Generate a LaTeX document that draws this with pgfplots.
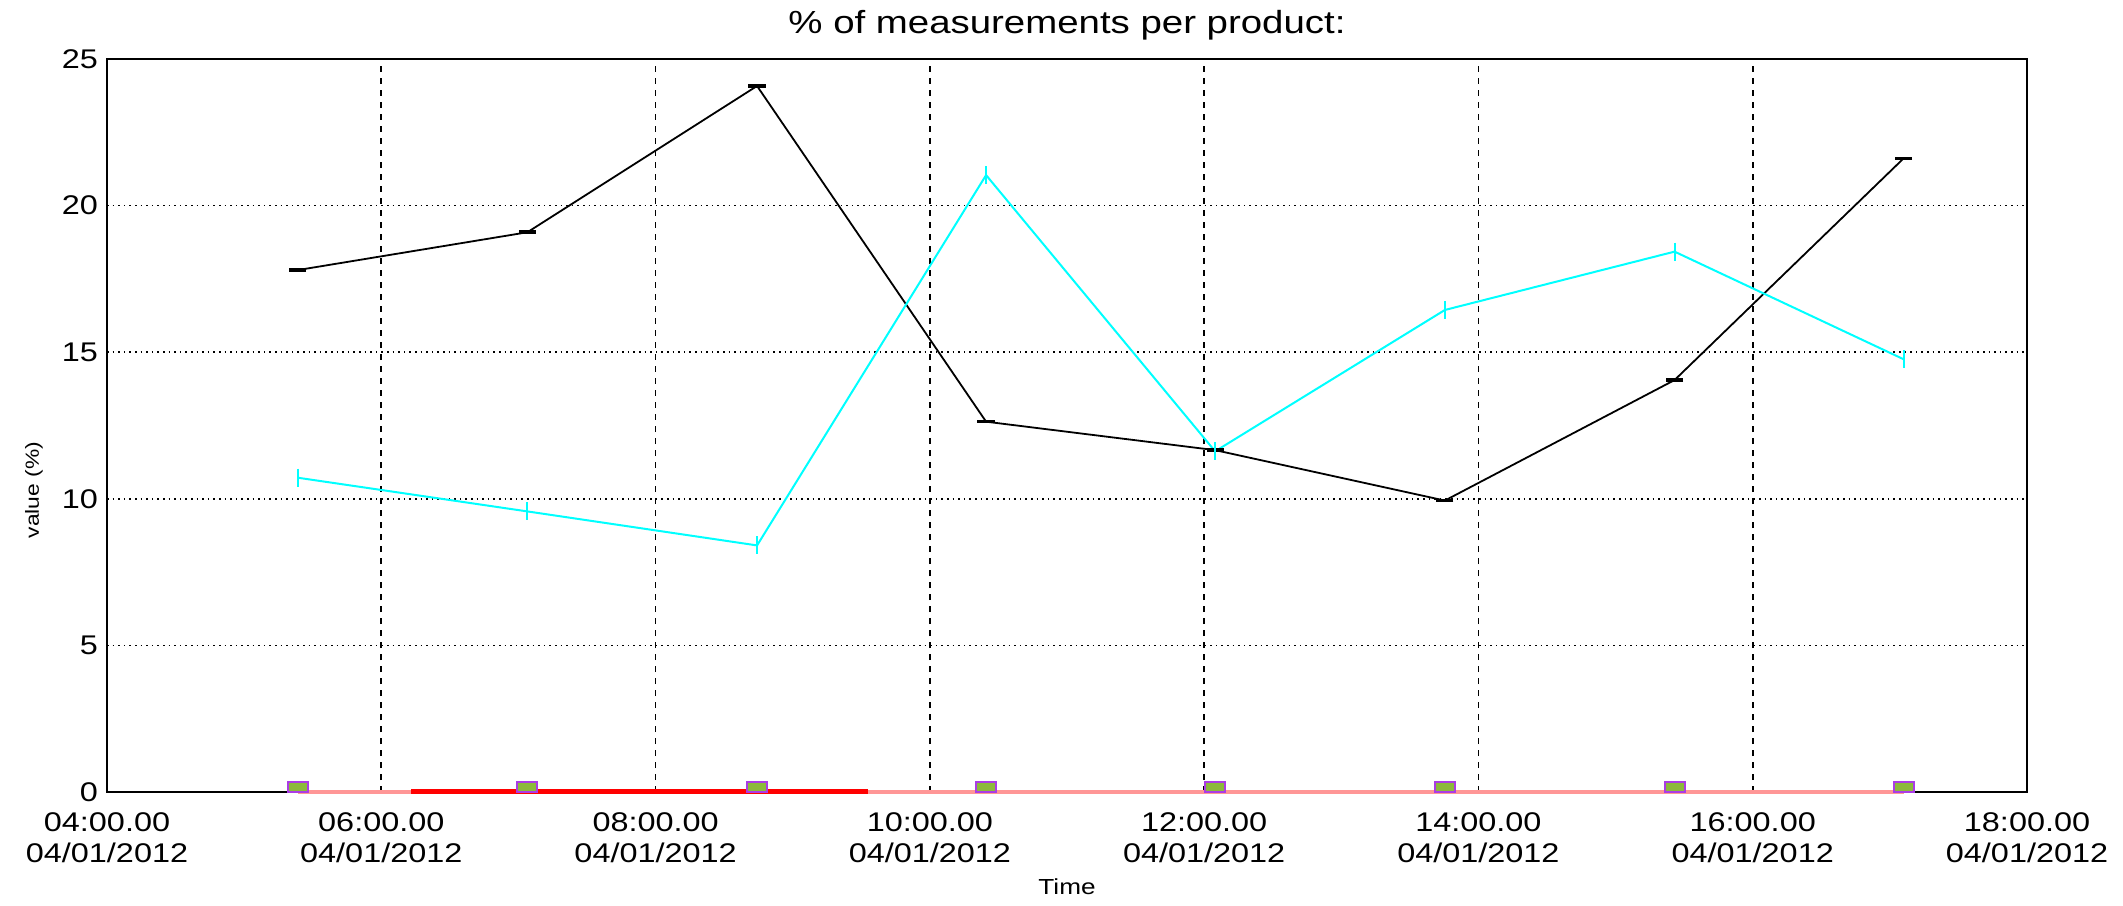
\documentclass[border=0pt]{standalone}
\usepackage{fontspec}
\setmainfont{Liberation Sans}[FakeStretch=1.2]
\usepackage{pgfplots}
\pgfplotsset{compat=1.18}
\definecolor{pinkline}{RGB}{255,150,150}
\definecolor{mkdraw}{RGB}{170,60,230}
\definecolor{mkfill}{RGB}{140,185,60}
\definecolor{cyanline}{RGB}{0,255,255}
\pgfdeclareplotmark{halfsq}{%
  \pgfpathrectangle{\pgfpoint{-\pgfplotmarksize}{0pt}}{\pgfpoint{2\pgfplotmarksize}{\pgfplotmarksize}}%
  \pgfusepathqfillstroke}
\begin{document}
\begin{tikzpicture}
\begin{axis}[
  name=ax,
  width=960pt, height=366.5pt, scale only axis,
  xmin=4, xmax=18, ymin=0, ymax=25,
  clip=false,
  xtick={4,6,...,18},
  xticklabels={{04:00.00\\04/01/2012},{06:00.00\\04/01/2012},{08:00.00\\04/01/2012},{10:00.00\\04/01/2012},{12:00.00\\04/01/2012},{14:00.00\\04/01/2012},{16:00.00\\04/01/2012},{18:00.00\\04/01/2012}},
  ytick={0,5,...,25},
  major tick length=0pt,
  /pgf/number format/assume math mode=true,
  tick label style={font=\fontsize{13.5}{15.5}\selectfont},
  xticklabel style={align=center, yshift=-7pt},
  yticklabel style={xshift=-1pt},
  grid=major,
  x grid style={black, line width=0.8pt, dash pattern=on 3pt off 3pt},
  y grid style={black, line width=0.8pt, dash pattern=on 0.8pt off 2pt},
  axis line style={black, line width=1.4pt},
  title={\% of measurements per product:},
  title style={at={(axis description cs:0.5,1.03)}, anchor=center, font=\fontsize{16}{19}\selectfont},
  xlabel={Time},
  xlabel style={at={(axis description cs:0.5,-0.1296)}, anchor=center, font=\fontsize{10.9}{13}\selectfont},
  ylabel={value (\%)},
  ylabel style={at={(axis description cs:-0.038,0.412)}, anchor=center, font=\fontsize{9.5}{11}\selectfont},
]
\addplot[pinkline, line width=1.6pt] coordinates {(5.39,0) (17.10,0)};
\addplot[red, line width=2.5pt] coordinates {(6.22,0.03) (9.55,0.03)};
\addplot[black, line width=0.9pt, mark=-, mark size=4.3pt, mark options={line width=1.8pt}] coordinates {
  (5.39,17.80) (7.065,19.09) (8.74,24.08) (10.41,12.63) (12.08,11.66) (13.755,9.94) (15.43,14.05) (17.10,21.61)};
\addplot[cyanline, line width=1pt, mark=|, mark size=4.5pt, mark options={line width=1pt}] coordinates {
  (5.39,10.72) (7.065,9.57) (8.74,8.41) (10.41,21.04) (12.08,11.62) (13.755,16.44) (15.43,18.43) (17.10,14.76)};
\addplot[only marks, mark=halfsq, mark size=5pt, mark options={draw=mkdraw, fill=mkfill, line width=1pt}] coordinates {
  (5.39,0) (7.065,0) (8.74,0) (10.41,0) (12.08,0) (13.755,0) (15.43,0) (17.10,0)};
\end{axis}
\pgfresetboundingbox
\path[use as bounding box] ([xshift=-53.5pt,yshift=-56.5pt]ax.south west) rectangle ([xshift=48pt,yshift=29.5pt]ax.north east);
\end{tikzpicture}
\end{document}
